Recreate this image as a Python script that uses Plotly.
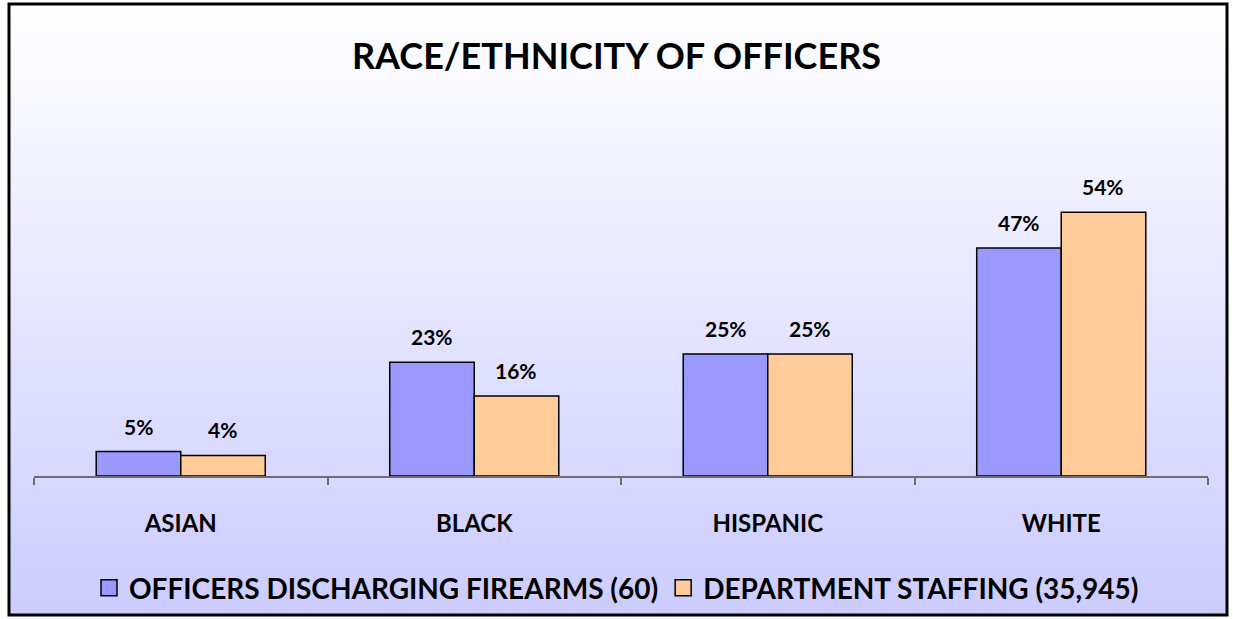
import base64, struct, zlib
import plotly.graph_objects as go

categories = ["ASIAN", "BLACK", "HISPANIC", "WHITE"]
officers_pct = [5.0, 23.3, 25.0, 46.7]
staffing_pct = [4.2, 16.4, 25.0, 54.0]
series_names = ["OFFICERS DISCHARGING FIREARMS (60)", "DEPARTMENT STAFFING (35,945)"]
title_text = "RACE/ETHNICITY OF OFFICERS"

W, H = 1233, 619
BLUE, ORANGE = "#9999FF", "#FFCC99"
FONT = "Lato"


def gradient_png(top, bottom, n=256):
    rows = b""
    for i in range(n):
        t = i / (n - 1)
        c = bytes(int(round(top[k] + (bottom[k] - top[k]) * t)) for k in range(3))
        rows += b"\x00" + c
    def chunk(tag, data):
        return struct.pack(">I", len(data)) + tag + data + struct.pack(">I", zlib.crc32(tag + data) & 0xffffffff)
    png = b"\x89PNG\r\n\x1a\n" + chunk(b"IHDR", struct.pack(">IIBBBBB", 1, n, 8, 2, 0, 0, 0))
    png += chunk(b"IDAT", zlib.compress(rows)) + chunk(b"IEND", b"")
    return "data:image/png;base64," + base64.b64encode(png).decode()


fig = go.Figure()
fig.add_bar(x=categories, y=officers_pct, name=series_names[0], marker=dict(color=BLUE, line=dict(color="black", width=1.5)),
            showlegend=False)
fig.add_bar(x=categories, y=staffing_pct, name=series_names[1], marker=dict(color=ORANGE, line=dict(color="black", width=1.5)),
            showlegend=False)
# legend entries
for nm, col in zip(series_names, [BLUE, ORANGE]):
    fig.add_scatter(x=[None], y=[None], mode="markers", name=nm,
                    marker=dict(symbol="square", size=18, color=col, line=dict(color="black", width=1.5)))

annotations = []
for vals, shift in [(officers_pct, -42), (staffing_pct, 42)]:
    for c, v in zip(categories, vals):
        annotations.append(dict(x=c, y=v, xref="x", yref="y", text=f"{round(v)}%", showarrow=False,
                                xshift=shift, yshift=11, yanchor="bottom",
                                font=dict(family=FONT, size=21, color="black", weight="bold")))

x0, x1 = 34, 1208
ytop, ybot = 183, 476
fig.update_layout(
    width=W, height=H,
    margin=dict(l=0, r=0, t=0, b=0),
    paper_bgcolor="white", plot_bgcolor="rgba(0,0,0,0)",
    barmode="group", bargap=0.424, bargroupgap=0,
    title=dict(text=title_text, x=0.5, xanchor="center", y=1 - 56 / H, yanchor="middle",
               font=dict(family=FONT, size=36, color="black", weight="bold")),
    xaxis=dict(domain=[x0 / W, x1 / W], showline=True, linecolor="#6E6E6E", linewidth=1.5,
               ticks="outside", tickson="boundaries", ticklen=7, tickcolor="#6E6E6E", tickwidth=1.5,
               ticklabelstandoff=25, automargin=False, showgrid=False,
               tickfont=dict(family=FONT, size=24, color="black", weight="bold")),
    yaxis=dict(domain=[1 - ybot / H, 1 - ytop / H], range=[0, 60], visible=False, showgrid=False, zeroline=False),
    legend=dict(orientation="h", x=0.5, xanchor="center", y=1 - 588 / H, yanchor="middle",
                font=dict(family=FONT, size=28, color="black", weight="bold"),
                bgcolor="rgba(0,0,0,0)", itemwidth=30, tracegroupgap=0),
    annotations=annotations,
    images=[dict(source=gradient_png((255, 255, 255), (204, 204, 255)), xref="paper", yref="paper",
                 x=10 / W, y=1 - 5 / H, sizex=(1226 - 10) / W, sizey=(614 - 5) / H,
                 sizing="stretch", layer="below", xanchor="left", yanchor="top")],
    shapes=[dict(type="rect", xref="paper", yref="paper", x0=9 / W, x1=1227 / W, y0=1 - 615 / H, y1=1 - 4 / H,
                 line=dict(color="black", width=3), layer="above")],
)

fig.write_html("out.html")
